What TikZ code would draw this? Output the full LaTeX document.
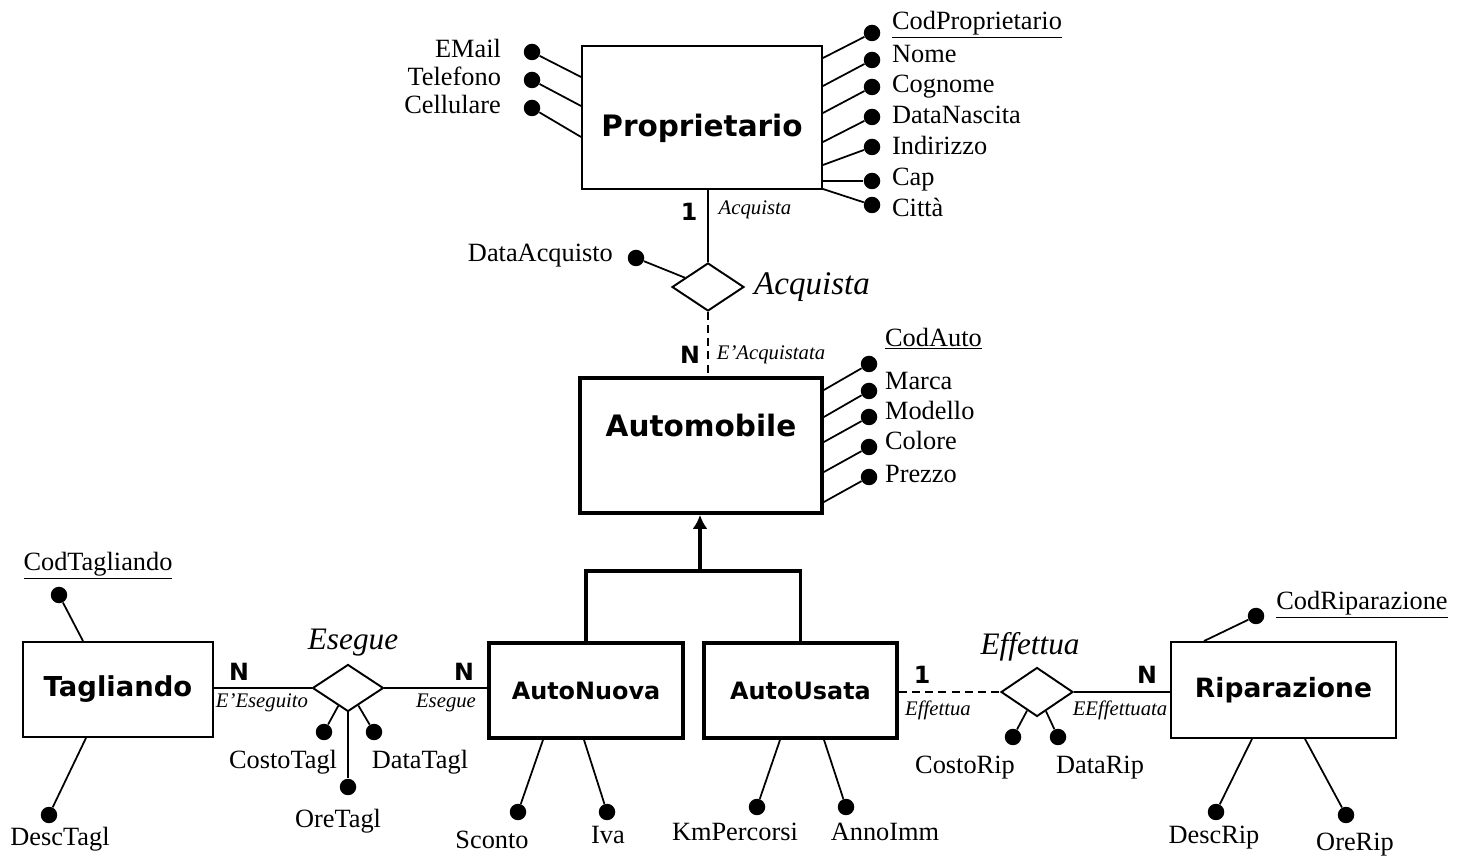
\documentclass[tikz,border=0pt]{standalone}
\usepackage{fontspec}
\setmainfont{Liberation Serif}
\newfontfamily\vsans{DejaVu Sans}
\usepackage{tikz}
\usetikzlibrary{shapes.geometric,arrows.meta,positioning}

\begin{document}
\begin{tikzpicture}[
x=0.02cm, y=-0.02cm,
entfont/.style={font=\vsans\bfseries\fontsize{#1}{20}\selectfont},
entity/.style={
  draw,
  line width=1.1pt,
  inner sep=0pt,
  entfont=14.8
  },
strongent/.style={
  entity,
  line width=2.2pt
  },
rel/.style={
  diamond,
  draw,
  line width=1.1pt,
  inner sep=0pt,
  minimum width=1.44cm,
  minimum height=0.96cm
  },
attdot/.style={circle, fill, inner sep=0pt, minimum size=0.33cm},
attr/.style={font=\fontsize{15}{18}\selectfont, inner sep=1pt, text height=1.5ex, text depth=0.25ex},
rolelbl/.style={font=\itshape\fontsize{11.8}{14}\selectfont, inner sep=1pt},
relname/.style={font=\itshape\fontsize{17.8}{21}\selectfont, inner sep=1pt},
card/.style={font=\vsans\bfseries\fontsize{13.5}{16}\selectfont, inner sep=1pt},
attline/.style={line width=1pt},
conn/.style={line width=1.1pt},
weakconn/.style={conn, dash pattern=on 4.5pt off 3pt},
isa/.style={line width=2.2pt},
>={Latex[length=0.28cm,width=0.3cm]}
]
\useasboundingbox (0,0) rectangle (1464,857);

% Proprietario
\node[entity, minimum width=4.8cm, minimum height=2.86cm] (prop) at (702,117.5) {};
\node[entfont=16.8] (propname) at (702,128) {Proprietario};
\foreach \txt/\dy/\ly/\ey [count=\i] in {
  \underline{CodProprietario}/33/24/58, Nome/60/57/86, Cognome/87/87/113,
  DataNascita/117/118/142, Indirizzo/147/149/165, Cap/181/180/181, Città/205/211/189}
{
  \node[attdot] (pd\i) at (872,\dy) {};
  \node[attr, anchor=west] (pa\i) at (890,\ly) {\txt};
  \draw[attline] (prop.east |- 0,\ey) -- (pd\i);
}
\foreach \txt/\dy/\ey [count=\i] in {EMail/52/77, Telefono/80/106, Cellulare/108/137}
{
  \node[attdot] (ld\i) at (532,\dy) {};
  \node[attr, anchor=east] (la\i) at (503,\dy) {\txt};
  \draw[attline] (prop.west |- 0,\ey) -- (ld\i);
}

% Acquista
\node[rel] (acq) at (708,287) {};
\node[relname, font=\itshape\fontsize{18.8}{22}\selectfont] (acqname) at (812,287) {Acquista};
\node[attdot] (dacq) at (636,258) {};
\node[attr, anchor=east] (dacql) at (615,256) {DataAcquisto};
\draw[attline] (dacq) -- (acq);
\draw[conn] (acq.north |- prop.south) -- (acq.north);
\node[card] (c1) at (689,212) {1};
\node[rolelbl] (r1) at (755,210) {Acquista};

% Automobile
\node[strongent, minimum width=4.84cm, minimum height=2.7cm] (auto) at (701,445.5) {};
\node[entfont=16.8] (autoname) at (701,425) {Automobile};
\draw[weakconn] (acq.south) -- (acq.south |- auto.north);
\node[card] (c2) at (690,355) {N};
\node[rolelbl] (r2) at (771,355) {E'Acquistata};
\foreach \txt/\dy/\ly/\ey [count=\i] in {
  \underline{CodAuto}/364/341/390, Marca/391/384/417, Modello/417/414/442,
  Colore/447/444/472, Prezzo/477/477/502}
{
  \node[attdot] (ad\i) at (869,\dy) {};
  \node[attr, anchor=west] (aa\i) at (883,\ly) {\txt};
  \draw[attline] (auto.east |- 0,\ey) -- (ad\i);
}

% generalizzazione
\node[strongent, entfont=13.6, minimum width=3.88cm, minimum height=1.9cm] (nuova) at (586,690.5) {AutoNuova};
\node[strongent, entfont=13.6, minimum width=3.86cm, minimum height=1.9cm] (usata) at (800.5,690.5) {AutoUsata};
\coordinate (gen) at (700,571);
\draw[isa] (nuova.north) |- (gen) -| (usata.north);
\draw[isa,->] (gen) -- (gen |- auto.south);

\node[attdot] (nd1) at (518,812) {};
\node[attdot] (nd2) at (607,812) {};
\draw[attline] (543,0 |- nuova.south) -- (nd1);
\draw[attline] (584,0 |- nuova.south) -- (nd2);
\node[attr] (na1) at (492,843) {Sconto};
\node[attr] (na2) at (608,838) {Iva};

\node[attdot] (ud1) at (757,807) {};
\node[attdot] (ud2) at (846,807) {};
\draw[attline] (780,0 |- usata.south) -- (ud1);
\draw[attline] (824,0 |- usata.south) -- (ud2);
\node[attr] (ua1) at (735,835) {KmPercorsi};
\node[attr] (ua2) at (885,835) {AnnoImm};

% Tagliando
\node[entity, entfont=15.6, minimum width=3.8cm, minimum height=1.9cm] (tagl) at (118,689.5) {Tagliando};
\node[attdot] (td1) at (59,595) {};
\node[attdot] (td2) at (49,815) {};
\draw[attline] (83,0 |- tagl.north) -- (td1);
\draw[attline] (86,0 |- tagl.south) -- (td2);
\node[attr] (ta1) at (98,565) {\underline{CodTagliando}};
\node[attr] (ta2) at (60,840) {DescTagl};

% Esegue
\node[rel, minimum width=1.42cm, minimum height=0.94cm] (eseg) at (348,688) {};
\node[relname] (esegname) at (353,643) {Esegue};
\draw[conn] (tagl.east |- eseg.west) -- (eseg.west);
\draw[conn] (eseg.east) -- (eseg.east -| nuova.west);
\node[card] (c3) at (239,672) {N};
\node[rolelbl] (r3) at (262,703) {E'Eseguito};
\node[card] (c4) at (464,672) {N};
\node[rolelbl] (r4) at (446,703) {Esegue};
\node[attdot] (ed1) at (324,732) {};
\node[attdot] (ed2) at (374,732) {};
\node[attdot] (ed3) at (348,787) {};
\draw[attline] (ed1) -- (eseg);
\draw[attline] (ed2) -- (eseg);
\draw[attline] (ed3) -- (eseg.south);
\node[attr] (ea1) at (283,763) {CostoTagl};
\node[attr] (ea2) at (420,763) {DataTagl};
\node[attr] (ea3) at (338,822) {OreTagl};

% Riparazione
\node[entity, entfont=15.1, minimum width=4.5cm, minimum height=1.92cm] (rip) at (1283.5,690) {Riparazione};
\node[attdot] (rd1) at (1256,616) {};
\node[attdot] (rd2) at (1216,812) {};
\node[attdot] (rd3) at (1346,815) {};
\draw[attline] (1204,0 |- rip.north) -- (rd1);
\draw[attline] (1252,0 |- rip.south) -- (rd2);
\draw[attline] (1305,0 |- rip.south) -- (rd3);
\node[attr] (ra1) at (1362,604) {\underline{CodRiparazione}};
\node[attr] (ra2) at (1214,838) {DescRip};
\node[attr] (ra3) at (1355,845) {OreRip};

% Effettua
\node[rel, minimum height=0.98cm] (eff) at (1037,692) {};
\node[relname] (effname) at (1030,647) {Effettua};
\draw[weakconn] (eff.west -| usata.east) -- (eff.west);
\draw[conn] (eff.east) -- (eff.east -| rip.west);
\node[card] (c5) at (922,675) {1};
\node[rolelbl] (r5) at (938,710) {Effettua};
\node[card] (c6) at (1147,675) {N};
\node[rolelbl] (r6) at (1120,710) {EEffettuata};
\node[attdot] (fd1) at (1013,737) {};
\node[attdot] (fd2) at (1058,737) {};
\draw[attline] (fd1) -- (eff);
\draw[attline] (fd2) -- (eff);
\node[attr] (fa1) at (965,768) {CostoRip};
\node[attr] (fa2) at (1100,768) {DataRip};
\end{tikzpicture}
\end{document}
